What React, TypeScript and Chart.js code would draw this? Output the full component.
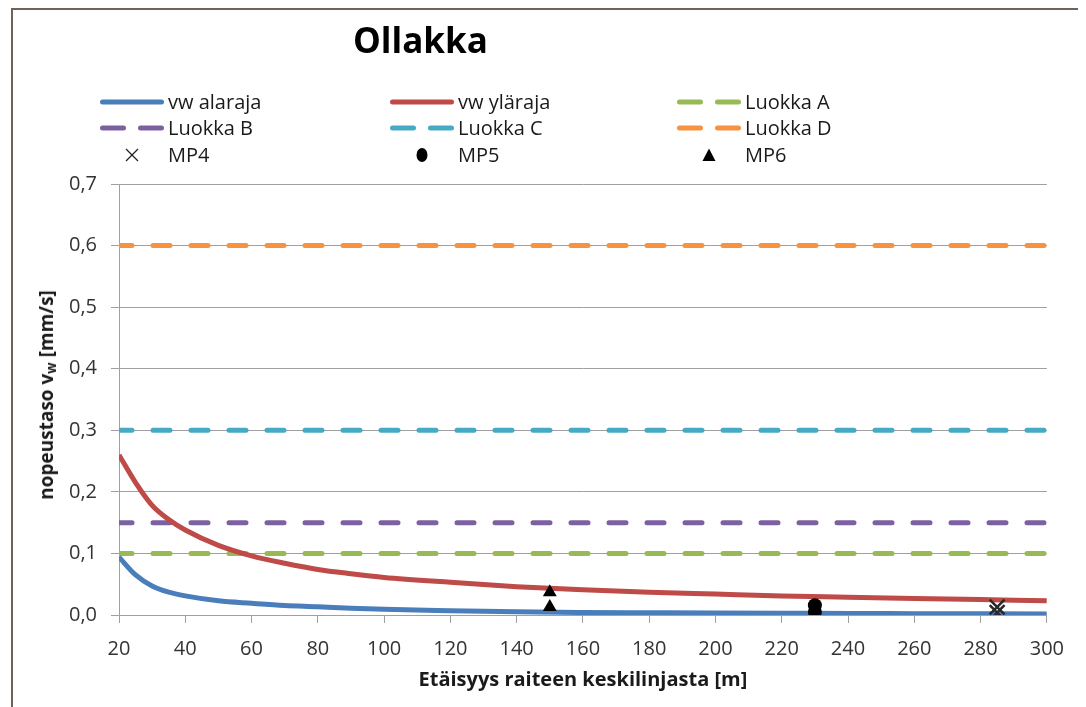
import React, { useEffect, useRef } from 'react';
import { Chart, registerables } from 'chart.js';

Chart.register(...registerables);

const chartTitle = 'Ollakka';
const xAxisTitle = 'Etäisyys raiteen keskilinjasta [m]';

const distances = [20, 25, 30, 35, 40, 50, 60, 70, 80, 90, 100, 120, 140, 160, 180, 200, 220, 240, 260, 280, 300];
const vwLower = [0.094, 0.065, 0.047, 0.037, 0.031, 0.023, 0.019, 0.0155, 0.0135, 0.011, 0.0092, 0.007, 0.0052, 0.0042, 0.0036, 0.0031, 0.0028, 0.0025, 0.0022, 0.002, 0.0017];
const vwUpper = [0.26, 0.215, 0.178, 0.155, 0.138, 0.113, 0.096, 0.084, 0.074, 0.067, 0.061, 0.053, 0.046, 0.041, 0.037, 0.034, 0.031, 0.029, 0.027, 0.025, 0.023];

const classRange = [20, 300];
const classA = [0.1, 0.1];
const classB = [0.15, 0.15];
const classC = [0.3, 0.3];
const classD = [0.6, 0.6];

const mp4X = [285, 285];
const mp4Y = [0.013, 0.004];
const mp5X = [230, 230];
const mp5Y = [0.016, 0.005];
const mp6X = [150, 150];
const mp6Y = [0.037, 0.013];

const xTickLabels = ['20', '40', '60', '80', '100', '120', '140', '160', '180', '200', '220', '240', '260', '280', '300'];
const yTickLabels = ['0,0', '0,1', '0,2', '0,3', '0,4', '0,5', '0,6', '0,7'];

const seriesNames = ['vw alaraja', 'vw yläraja', 'Luokka A', 'Luokka B', 'Luokka C', 'Luokka D', 'MP4', 'MP5', 'MP6'];

const BLUE = '#4A7EBB';
const RED = '#BE4B48';
const GREEN = '#98B954';
const PURPLE = '#7D60A0';
const CYAN = '#46AAC5';
const ORANGE = '#F69240';
const GRID = '#a0a0a0';
const FONT = '"Open Sans", "Noto Sans", sans-serif';

const zip = (xs: number[], ys: number[]) => xs.map((x, i) => ({ x, y: ys[i] }));

function LegendSample({ kind, color }: { kind: string; color: string }) {
  return (
    <svg width={64} height={18} style={{ display: 'block', flex: 'none' }}>
      {kind === 'solid' && <line x1={2.5} y1={9} x2={61.5} y2={9} stroke={color} strokeWidth={5} strokeLinecap="round" />}
      {kind === 'dash' && (
        <line x1={2.5} y1={9} x2={62} y2={9} stroke={color} strokeWidth={5} strokeLinecap="round" strokeDasharray="21 17" />
      )}
      {kind === 'x' && (
        <g stroke="#222" strokeWidth={1.3}>
          <line x1={26} y1={3} x2={38} y2={15} />
          <line x1={38} y1={3} x2={26} y2={15} />
        </g>
      )}
      {kind === 'circle' && <ellipse cx={32} cy={9} rx={5.5} ry={7} fill="#000" />}
      {kind === 'triangle' && <polygon points="32,2.5 38.5,15 25.5,15" fill="#000" />}
    </svg>
  );
}

const legendItems = [
  { name: seriesNames[0], kind: 'solid', color: BLUE, col: 0, row: 0 },
  { name: seriesNames[1], kind: 'solid', color: RED, col: 1, row: 0 },
  { name: seriesNames[2], kind: 'dash', color: GREEN, col: 2, row: 0 },
  { name: seriesNames[3], kind: 'dash', color: PURPLE, col: 0, row: 1 },
  { name: seriesNames[4], kind: 'dash', color: CYAN, col: 1, row: 1 },
  { name: seriesNames[5], kind: 'dash', color: ORANGE, col: 2, row: 1 },
  { name: seriesNames[6], kind: 'x', color: '#222', col: 0, row: 2 },
  { name: seriesNames[7], kind: 'circle', color: '#000', col: 1, row: 2 },
  { name: seriesNames[8], kind: 'triangle', color: '#000', col: 2, row: 2 },
];
const legendColX = [87, 377, 664];
const legendRowY = [91.5, 118, 145];

export default function App() {
  const canvasRef = useRef<HTMLCanvasElement | null>(null);

  useEffect(() => {
    if (!canvasRef.current) return;
    Chart.defaults.font.family = FONT;
    const dashed = (label: string, ys: number[], color: string) => ({
      label,
      data: zip(classRange, ys),
      borderColor: color,
      backgroundColor: color,
      borderWidth: 5,
      borderDash: [17, 21],
      borderDashOffset: 4,
      borderCapStyle: 'round' as const,
      pointRadius: 0,
      order: 2,
    });
    const chart = new Chart(canvasRef.current, {
      type: 'line',
      data: {
        datasets: [
          {
            label: seriesNames[0],
            data: zip(distances, vwLower),
            borderColor: BLUE,
            backgroundColor: BLUE,
            borderWidth: 5,
            pointRadius: 0,
            cubicInterpolationMode: 'monotone',
            order: 1,
          },
          {
            label: seriesNames[1],
            data: zip(distances, vwUpper),
            borderColor: RED,
            backgroundColor: RED,
            borderWidth: 5,
            pointRadius: 0,
            cubicInterpolationMode: 'monotone',
            order: 1,
          },
          dashed(seriesNames[2], classA, GREEN),
          dashed(seriesNames[3], classB, PURPLE),
          dashed(seriesNames[4], classC, CYAN),
          dashed(seriesNames[5], classD, ORANGE),
          {
            label: seriesNames[6],
            data: zip(mp4X, mp4Y),
            showLine: false,
            pointStyle: 'crossRot',
            pointRadius: 10.5,
            pointBorderWidth: 2.5,
            pointBorderColor: '#2a2a2a',
            pointBackgroundColor: '#2a2a2a',
            order: 0,
          },
          {
            label: seriesNames[7],
            data: zip(mp5X, mp5Y),
            showLine: false,
            pointStyle: 'circle',
            pointRadius: 7,
            pointBorderWidth: 0,
            pointBackgroundColor: '#000',
            pointBorderColor: '#000',
            order: 0,
          },
          {
            label: seriesNames[8],
            data: zip(mp6X, mp6Y),
            showLine: false,
            pointStyle: 'triangle',
            pointRadius: 8,
            pointBorderWidth: 0,
            pointBackgroundColor: '#000',
            pointBorderColor: '#000',
            order: 0,
          },
        ] as any,
      },
      options: {
        animation: false,
        responsive: false,
        layout: { padding: { top: 174, right: 29, bottom: 0, left: 0 } },
        plugins: {
          legend: { display: false },
          title: { display: false },
          tooltip: { enabled: false },
        },
        scales: {
          x: {
            type: 'linear',
            min: 20,
            max: 300,
            afterFit: (s: any) => {
              s.height = 92;
            },
            ticks: {
              stepSize: 20,
              autoSkip: false,
              maxRotation: 0,
              padding: 14,
              color: '#333',
              font: { family: FONT, size: 20 },
              callback: (_v: any, i: number) => xTickLabels[i],
            },
            grid: { drawOnChartArea: false, drawTicks: true, tickLength: 8, color: GRID, tickColor: GRID },
            border: { display: true, color: GRID, width: 1 },
            title: {
              display: true,
              text: xAxisTitle,
              color: '#1a1a1a',
              font: { family: FONT, size: 20, weight: 'bold' },
              padding: { top: 0, bottom: 15 },
            },
          },
          y: {
            type: 'linear',
            min: 0,
            max: 0.7,
            afterFit: (s: any) => {
              s.width = 106;
            },
            ticks: {
              stepSize: 0.1,
              padding: 14,
              color: '#333',
              font: { family: FONT, size: 20 },
              callback: (_v: any, i: number) => yTickLabels[i],
            },
            grid: { drawOnChartArea: true, drawTicks: true, tickLength: 8, color: GRID, tickColor: GRID },
            border: { display: true, color: GRID, width: 1 },
          },
        },
      } as any,
    });
    return () => chart.destroy();
  }, []);

  return (
    <div
      style={{
        position: 'relative',
        marginLeft: 3,
        width: 1069,
        height: 720,
        boxSizing: 'border-box',
        border: '2px solid #6e625a',
        borderBottom: 'none',
        background: '#fff',
        fontFamily: FONT,
        color: '#1a1a1a',
      }}
    >
      <style>{'html,body{overflow:hidden}'}</style>
      <canvas ref={canvasRef} width={1065} height={697} style={{ position: 'absolute', left: 0, top: 0 }} />
      <div
        style={{
          position: 'absolute',
          left: 340,
          top: 12,
          fontSize: 35,
          lineHeight: '35px',
          fontWeight: 700,
          color: '#000',
          whiteSpace: 'nowrap',
        }}
      >
        {chartTitle}
      </div>
      {legendItems.map((it) => (
        <div
          key={it.name}
          style={{
            position: 'absolute',
            left: legendColX[it.col],
            top: legendRowY[it.row] - 12,
            height: 24,
            display: 'flex',
            alignItems: 'center',
            fontSize: 20,
            lineHeight: '24px',
            whiteSpace: 'nowrap',
            color: '#1a1a1a',
          }}
        >
          <LegendSample kind={it.kind} color={it.color} />
          <span style={{ marginLeft: 4 }}>{it.name}</span>
        </div>
      ))}
      <div
        style={{
          position: 'absolute',
          left: 33,
          top: 385,
          transform: 'translate(-50%, -50%) rotate(-90deg)',
          whiteSpace: 'nowrap',
          fontSize: 19,
          fontWeight: 700,
          lineHeight: '24px',
          color: '#1a1a1a',
        }}
      >
        nopeustaso v<sub style={{ fontSize: '0.7em', verticalAlign: '-0.2em', lineHeight: 0 }}>w</sub> [mm/s]
      </div>
    </div>
  );
}
